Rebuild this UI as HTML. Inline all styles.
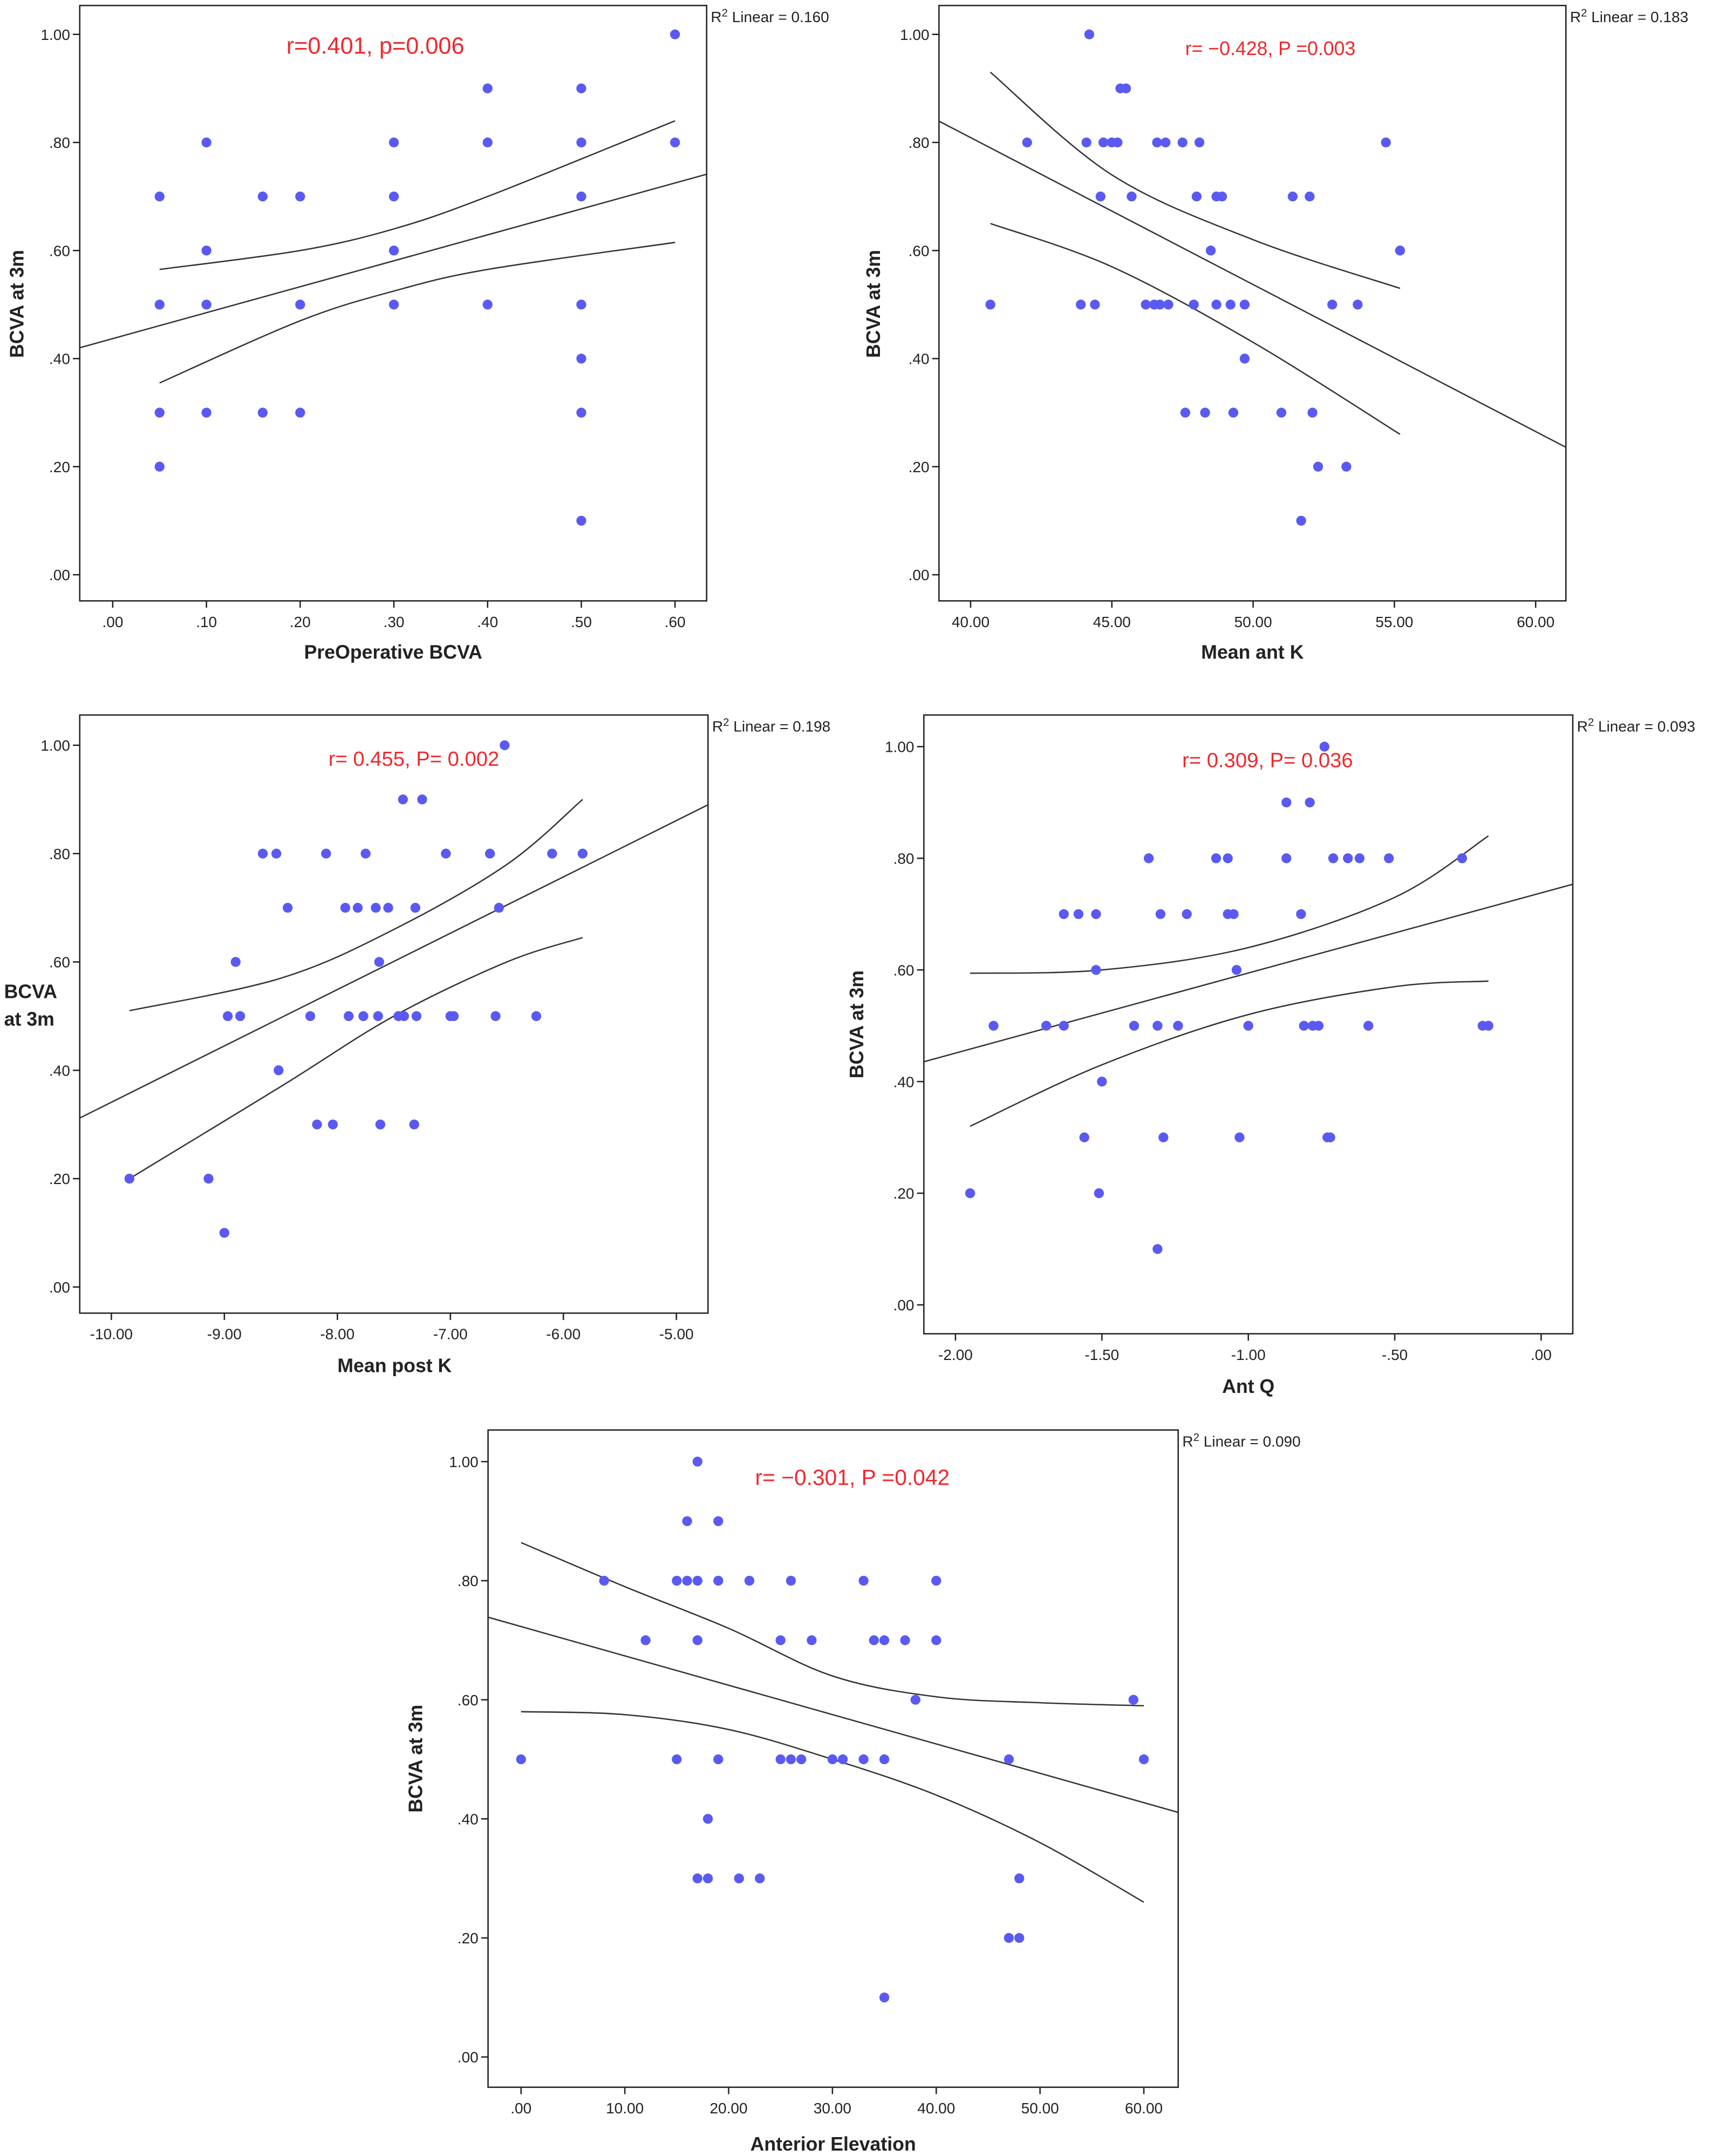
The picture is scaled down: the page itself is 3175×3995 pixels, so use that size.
<!DOCTYPE html>
<html><head><meta charset="utf-8">
<style>
html,body{margin:0;padding:0;background:#fff;}
svg{display:block;font-family:"Liberation Sans",Arial,sans-serif;}
</style></head>
<body>
<svg id="chart" width="3175" height="3995" viewBox="0 0 1246 1568" preserveAspectRatio="none" xmlns="http://www.w3.org/2000/svg"></svg>
<script>
// ---- Panel 1: PreOperative BCVA ----
const p1X=[.05,.05,.05,.05,.1,.1,.1,.1,.16,.16,.2,.2,.2,.3,.3,.3,.3,.4,.4,.4,.5,.5,.5,.5,.5,.5,.5,.6,.6];
const p1Y=[.7,.5,.3,.2,.8,.6,.5,.3,.7,.3,.7,.5,.3,.8,.7,.6,.5,.9,.8,.5,.9,.8,.7,.5,.4,.3,.1,1.0,.8];
const p1Ticks=[".00",".10",".20",".30",".40",".50",".60"];
const p1TickVals=[0,.1,.2,.3,.4,.5,.6];
const p1Fit=[0.48,0.437];
const p1CiX=[.05,.2,.3,.4,.6];
const p1CiHi=[.565,.6,.64,.7,.84];
const p1CiLo=[.355,.47,.525,.565,.615];
// ---- Panel 2: Mean ant K ----
const p2X=[40.7,42.0,43.9,44.2,44.1,44.4,44.6,44.7,45.0,45.2,45.3,45.5,45.7,46.2,46.5,46.6,46.7,46.9,47.0,47.5,47.6,47.9,48.0,48.1,48.3,48.5,48.7,48.7,48.9,49.2,49.3,49.7,49.7,51.0,51.4,51.7,52.0,52.1,52.3,52.8,53.3,53.7,54.7,55.2];
const p2Y=[.5,.8,.5,1.0,.8,.5,.7,.8,.8,.8,.9,.9,.7,.5,.5,.8,.5,.8,.5,.8,.3,.5,.7,.8,.3,.6,.7,.5,.7,.5,.3,.5,.4,.3,.7,.1,.7,.3,.2,.5,.2,.5,.8,.6];
const p2Ticks=["40.00","45.00","50.00","55.00","60.00"];
const p2TickVals=[40,45,50,55,60];
const p2Fit=[-0.0272,1.897];
const p2CiX=[40.7,45,50,55.2];
const p2CiHi=[.93,.74,.62,.53];
const p2CiLo=[.65,.57,.43,.26];
// ---- Panel 3: Mean post K ----
const p3X=[-9.84,-9.14,-9.0,-8.97,-8.9,-8.86,-8.66,-8.54,-8.52,-8.44,-8.24,-8.18,-8.1,-8.04,-7.93,-7.9,-7.82,-7.77,-7.75,-7.66,-7.64,-7.63,-7.62,-7.55,-7.46,-7.42,-7.41,-7.32,-7.31,-7.3,-7.25,-7.04,-7.0,-6.97,-6.65,-6.6,-6.57,-6.52,-6.24,-6.1,-5.83];
const p3Y=[.2,.2,.1,.5,.6,.5,.8,.8,.4,.7,.5,.3,.8,.3,.7,.5,.7,.5,.8,.7,.5,.6,.3,.7,.5,.9,.5,.3,.7,.5,.9,.8,.5,.5,.8,.5,.7,1.0,.5,.8,.8];
const p3Ticks=["-10.00","-9.00","-8.00","-7.00","-6.00","-5.00"];
const p3TickVals=[-10,-9,-8,-7,-6,-5];
const p3Fit=[0.104,1.381];
const p3CiX=[-9.84,-8.5,-7.5,-6.5,-5.83];
const p3CiHi=[.51,.57,.66,.78,.9];
const p3CiLo=[.2,.37,.5,.6,.645];
// ---- Panel 4: Ant Q ----
const p4X=[-1.95,-1.87,-1.69,-1.63,-1.63,-1.58,-1.56,-1.52,-1.52,-1.51,-1.5,-1.39,-1.34,-1.31,-1.3,-1.31,-1.29,-1.24,-1.21,-1.11,-1.07,-1.07,-1.05,-1.04,-1.03,-1.0,-.87,-.87,-.82,-.81,-.79,-.78,-.76,-.74,-.73,-.72,-.71,-.66,-.62,-.59,-.52,-.27,-.2,-.18];
const p4Y=[.2,.5,.5,.7,.5,.7,.3,.7,.6,.2,.4,.5,.8,.5,.7,.1,.3,.5,.7,.8,.8,.7,.7,.6,.3,.5,.9,.8,.7,.5,.9,.5,.5,1.0,.3,.3,.8,.8,.8,.5,.8,.8,.5,.5];
const p4Ticks=["-2.00","-1.50","-1.00","-.50",".00"];
const p4TickVals=[-2,-1.5,-1,-.5,0];
const p4Fit=[0.1435,0.738];
const p4CiX=[-1.95,-1.5,-1.0,-.5,-.18];
const p4CiHi=[.594,.6,.64,.73,.84];
const p4CiLo=[.32,.43,.52,.57,.58];
// ---- Panel 5: Anterior Elevation ----
const p5X=[0,8,12,15,15,16,16,17,17,17,17,18,18,19,19,19,21,22,23,25,25,26,26,27,28,30,31,33,33,34,35,35,35,37,38,40,40,47,47,48,48,59,60];
const p5Y=[.5,.8,.7,.8,.5,.9,.8,1.0,.8,.7,.3,.4,.3,.9,.8,.5,.3,.8,.3,.7,.5,.8,.5,.5,.7,.5,.5,.8,.5,.7,.7,.5,.1,.7,.6,.8,.7,.5,.2,.2,.3,.6,.5];
const p5Ticks=[".00","10.00","20.00","30.00","40.00","50.00","60.00"];
const p5TickVals=[0,10,20,30,40,50,60];
const p5Fit=[-0.00493,0.723];
const p5CiX=[0,10,20,30,40,50,60];
const p5CiHi=[.864,.79,.72,.64,.605,.595,.59];
const p5CiLo=[.58,.575,.55,.5,.44,.36,.26];
const yTicks=[".00",".20",".40",".60",".80","1.00"];
const yTickVals=[0,.2,.4,.6,.8,1];

const NS="http://www.w3.org/2000/svg";
const svg=document.getElementById('chart');
function mk(tag,attrs,parent){const e=document.createElementNS(NS,tag);for(const k in attrs)e.setAttribute(k,attrs[k]);(parent||svg).appendChild(e);return e;}
function spline(pts){let d=`M${pts[0][0]},${pts[0][1]}`;for(let i=0;i<pts.length-1;i++){const p0=pts[i-1]||pts[i],p1=pts[i],p2=pts[i+1],p3=pts[i+2]||p2;d+=` C${p1[0]+(p2[0]-p0[0])/6},${p1[1]+(p2[1]-p0[1])/6} ${p2[0]-(p3[0]-p1[0])/6},${p2[1]-(p3[1]-p1[1])/6} ${p2[0]},${p2[1]}`;}return d;}

function panel(id,c){
 const g=mk('g',{});
 
 
 const sx=v=>c.x0px+(v-c.x0v)*(c.x1px-c.x0px)/(c.x1v-c.x0v);
 const sy=v=>c.y0px+(v)*(c.y1px-c.y0px);
 const box=mk('rect',{x:c.L,y:c.T,width:c.R-c.L,height:c.B-c.T,fill:'none',stroke:'#222','stroke-width':1},g);
 
 
 const clip=mk('clipPath',{id:id+'-clip'},g);mk('rect',{x:c.L,y:c.T,width:c.R-c.L,height:c.B-c.T},clip);
 yTickVals.forEach((v,i)=>{const y=sy(v);mk('line',{x1:c.L-5,x2:c.L,y1:y,y2:y,stroke:'#222'},g);
  const t=mk('text',{x:c.L-7,y:y+4,'text-anchor':'end','font-size':11,fill:'#222'},g);t.textContent=yTicks[i];
  
  });
 c.tv.forEach((v,i)=>{const x=sx(v);mk('line',{x1:x,x2:x,y1:c.B,y2:c.B+5,stroke:'#222'},g);
  const t=mk('text',{x:x,y:c.B+19,'text-anchor':'middle','font-size':11,fill:'#222'},g);t.textContent=c.tl[i];
  
  });
 const xt=mk('text',{x:c.xtX,y:c.xtY,'text-anchor':'middle','font-size':14,'font-weight':'bold',fill:'#222'},g);xt.textContent=c.xTitle;
 
 
 if(c.yHoriz){const t1=mk('text',{x:3,y:c.ytY-8,'font-size':14,'font-weight':'bold',fill:'#222'},g);t1.textContent='BCVA';
  
  
  const t2=mk('text',{x:3,y:c.ytY+12,'font-size':14,'font-weight':'bold',fill:'#222'},g);t2.textContent='at 3m';
  
  }
 else{const t=mk('text',{x:0,y:0,'text-anchor':'middle','font-size':14,'font-weight':'bold',fill:'#222',transform:`translate(${c.ytX},${c.ytY}) rotate(-90)`},g);t.textContent='BCVA at 3m';
  
  }
 const r2=mk('text',{x:c.R+3,y:c.T+12,'font-size':11,fill:'#222'},g);
 r2.innerHTML=`R<tspan dy="-4" font-size="8">2</tspan><tspan dy="4"> Linear = ${c.r2}</tspan>`;
 
 
 const an=mk('text',{x:c.anX,y:c.anY,'text-anchor':'middle','font-size':c.anS,fill:'#f0282d'},g);an.textContent=c.ann;
 
 
 const xl=c.x0v+(c.L-c.x0px)*(c.x1v-c.x0v)/(c.x1px-c.x0px), xr=c.x0v+(c.R-c.x0px)*(c.x1v-c.x0v)/(c.x1px-c.x0px);
 const fl=mk('line',{x1:c.L,y1:sy(c.fit[0]*xl+c.fit[1]),x2:c.R,y2:sy(c.fit[0]*xr+c.fit[1]),stroke:'#333','stroke-width':1,'clip-path':`url(#${id}-clip)`},g);
 
 
 const hi=mk('path',{d:spline(c.ciX.map((v,i)=>[sx(v),sy(c.ciHi[i])])),fill:'none',stroke:'#333','stroke-width':1},g);
 
 
 const lo=mk('path',{d:spline(c.ciX.map((v,i)=>[sx(v),sy(c.ciLo[i])])),fill:'none',stroke:'#333','stroke-width':1},g);
 
 
 c.xs.forEach((v,i)=>{const p=mk('circle',{cx:sx(v),cy:sy(c.ys[i]),r:3.6,fill:'#5a5af2'},g);
  
  });
}
panel('panel-preop-bcva',{L:58,R:514,T:4,B:437,y0px:418,y1px:25,x0v:0,x1v:.6,x0px:82,x1px:491,tv:p1TickVals,tl:p1Ticks,xs:p1X,ys:p1Y,fit:p1Fit,ciX:p1CiX,ciHi:p1CiHi,ciLo:p1CiLo,xTitle:'PreOperative BCVA',xtX:286,xtY:479,ytX:17,ytY:221,r2:'0.160',ann:'r=0.401, p=0.006',anX:273,anY:39,anS:17});
panel('panel-mean-ant-k',{L:683,R:1139,T:4,B:437,y0px:418,y1px:25,x0v:40,x1v:60,x0px:706,x1px:1117,tv:p2TickVals,tl:p2Ticks,xs:p2X,ys:p2Y,fit:p2Fit,ciX:p2CiX,ciHi:p2CiHi,ciLo:p2CiLo,xTitle:'Mean ant K',xtX:911,xtY:479,ytX:640,ytY:221,r2:'0.183',ann:'r= \u22120.428, P =0.003',anX:924,anY:40,anS:14});
panel('panel-mean-post-k',{L:58,R:515,T:520,B:955,y0px:936,y1px:542,x0v:-10,x1v:-5,x0px:81,x1px:492,tv:p3TickVals,tl:p3Ticks,xs:p3X,ys:p3Y,fit:p3Fit,ciX:p3CiX,ciHi:p3CiHi,ciLo:p3CiLo,xTitle:'Mean post K',xtX:287,xtY:998,yHoriz:true,ytY:734,r2:'0.198',ann:'r= 0.455, P= 0.002',anX:301,anY:557,anS:15});
panel('panel-ant-q',{L:672,R:1144,T:520,B:970,y0px:949,y1px:543,x0v:-2,x1v:0,x0px:695,x1px:1121,tv:p4TickVals,tl:p4Ticks,xs:p4X,ys:p4Y,fit:p4Fit,ciX:p4CiX,ciHi:p4CiHi,ciLo:p4CiLo,xTitle:'Ant Q',xtX:908,xtY:1013,ytX:628,ytY:745,r2:'0.093',ann:'r= 0.309, P= 0.036',anX:922,anY:558,anS:15});
panel('panel-anterior-elevation',{L:355,R:857,T:1040,B:1518,y0px:1496,y1px:1063,x0v:0,x1v:60,x0px:379,x1px:832,tv:p5TickVals,tl:p5Ticks,xs:p5X,ys:p5Y,fit:p5Fit,ciX:p5CiX,ciHi:p5CiHi,ciLo:p5CiLo,xTitle:'Anterior Elevation',xtX:606,xtY:1564,ytX:307,ytY:1279,r2:'0.090',ann:'r= \u22120.301, P =0.042',anX:620,anY:1080,anS:16});
</script>
</body></html>
